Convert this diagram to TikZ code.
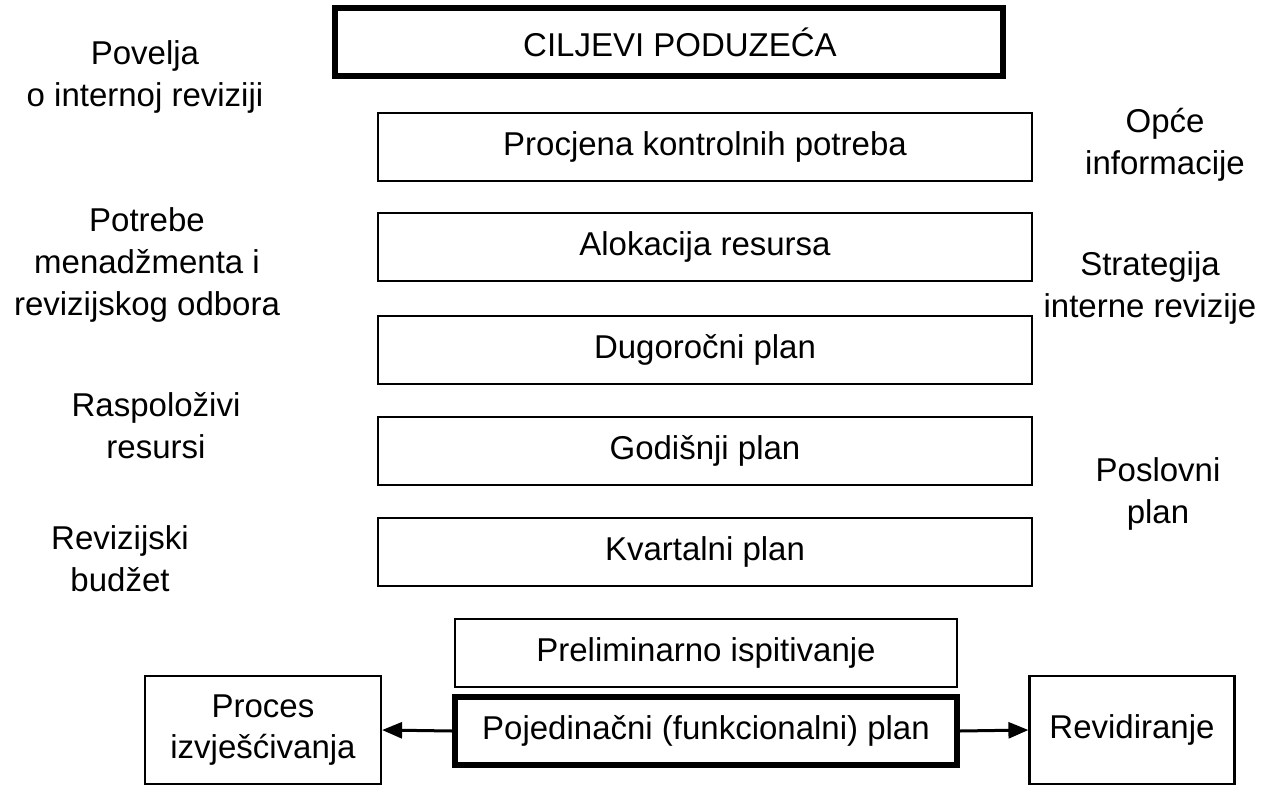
\documentclass[tikz,border=0pt]{standalone}
\usepackage{fontspec}
\setmainfont{Liberation Sans}
\usetikzlibrary{arrows.meta}
\tikzset{
  box/.style={draw=black, line width=2.2pt, minimum height=68pt, inner sep=0pt, font=\fontsize{33}{41}\selectfont},
  boldbox/.style={box, line width=5.5pt},
  lbl/.style={align=center, inner sep=0pt, font=\fontsize{33}{42}\selectfont},
  conn/.style={line width=3pt, -{Triangle[length=20pt,width=16pt]}}
}
\begin{document}
\begin{tikzpicture}[x=1pt,y=-1pt]
\useasboundingbox (0,0) rectangle (1277,787);
\fill[white] (0,0) rectangle (1277,787);
% central column
\node[boldbox, minimum width=668pt] (cilj) at (669,42) {\hspace*{22pt}CILJEVI PODUZEĆA};
\node[box, minimum width=654pt] (procj) at (705,147) {Procjena kontrolnih potreba};
\node[box, minimum width=654pt] (alok) at (705,247) {Alokacija resursa};
\node[box, minimum width=654pt] (dug) at (705,350) {Dugoročni plan};
\node[box, minimum width=654pt] (god) at (705,451) {Godišnji plan};
\node[box, minimum width=654pt] (kvart) at (705,552) {Kvartalni plan};
\node[box, minimum width=502pt, minimum height=68pt] (prelim) at (706,653) {Preliminarno ispitivanje};
\node[boldbox, minimum width=502pt] (poj) at (706,731) {Pojedinačni (funkcionalni) plan};
\node[box, minimum width=236pt, minimum height=108pt, align=center] (proces) at (263,730) {Proces\\izvješćivanja};
\node[box, minimum width=205pt, minimum height=108pt] (revid) at (1132,730) {Revidiranje};
% side labels
\node[lbl] (povelja) at (145,77) {Povelja\\o internoj reviziji};
\node[lbl] (potrebe) at (147,265) {Potrebe\\menadžmenta i\\revizijskog odbora};
\node[lbl] (raspol) at (156,426) {Raspoloživi\\resursi};
\node[lbl] (budzet) at (120,559) {Revizijski\\budžet};
\node[lbl] (opce) at (1165,145) {Opće\\informacije};
\node[lbl] (strat) at (1150,288) {Strategija\\interne revizije};
\node[lbl] (poslovni) at (1158,494) {Poslovni\\plan};
% connectors
\draw[conn] (poj.west) -- (proces.east);
\draw[conn] (poj.east) -- (revid.west);
\end{tikzpicture}
\end{document}
